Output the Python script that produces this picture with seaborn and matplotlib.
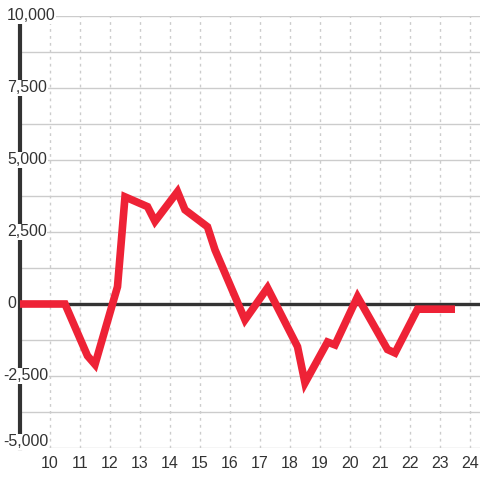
import matplotlib
matplotlib.use("Agg")
import matplotlib.pyplot as plt
import matplotlib.transforms as mtransforms
import seaborn as sns
import pandas as pd

# data
hours = [9.0, 10.5, 11.25, 11.5, 12.25, 12.5, 13.25, 13.5, 14.25, 14.5, 15.25, 15.5,
         16.5, 17.25, 18.25, 18.5, 19.25, 19.5, 20.25, 21.25, 21.5, 22.25, 23.5]
values = [0, 0, -1800, -2100, 600, 3720, 3380, 2870, 3900, 3270, 2680, 1880,
          -550, 560, -1480, -2740, -1320, -1420, 250, -1580, -1700, -180, -180]
x_ticks = list(range(10, 25))
y_ticks = [-5000, -2500, 0, 2500, 5000, 7500, 10000]
y_tick_labels = ["-5,000", "-2,500", "0", "2,500", "5,000", "7,500", "10,000"]
y_grid = [-5000 + 1250 * i for i in range(13)]

sns.set_theme(style="white")
plt.rcParams["font.family"] = ["Liberation Sans", "DejaVu Sans"]

fig = plt.figure(figsize=(4.8, 4.8), dpi=100)
ax = fig.add_axes([20 / 480, 32 / 480, 460 / 480, 432 / 480])

df = pd.DataFrame({"hour": hours, "value": values})
sns.lineplot(data=df, x="hour", y="value", ax=ax, color="#ee2236", linewidth=5.5,
             solid_joinstyle="miter", solid_capstyle="butt", zorder=5)

ax.set_xlim(9, 9 + 460 / 30)
ax.set_ylim(-5000, 10000)
ax.set_xlabel("")
ax.set_ylabel("")

for gy in y_grid:
    ax.axhline(gy, color="#cccccc", linewidth=1, zorder=1)
for gx in x_ticks:
    ax.axvline(gx, color="#cccccc", linewidth=1, linestyle=(0, (2, 3)), zorder=1)
ax.axhline(0, color="#333333", linewidth=2.4, zorder=4)

for s in ["top", "right", "bottom"]:
    ax.spines[s].set_visible(False)
ax.spines["left"].set_visible(True)
ax.spines["left"].set_color("#333333")
ax.spines["left"].set_linewidth(3)
ax.spines["left"].set_zorder(3)

ax.set_xticks(x_ticks)
ax.set_xticklabels([str(t) for t in x_ticks])
ax.tick_params(axis="x", length=0, pad=6, labelsize=11.5, labelcolor="#333333")
ax.set_yticks(y_ticks)
ax.set_yticklabels([])
ax.tick_params(axis="y", length=0)

trans = mtransforms.blended_transform_factory(fig.transFigure, ax.transData)
for yv, lab in zip(y_ticks, y_tick_labels):
    xpos = 7 / 480 if not lab.startswith("-") else 3 / 480
    t = trans
    if yv == y_ticks[0]:
        t = trans + mtransforms.ScaledTranslation(0, 6 / 100, fig.dpi_scale_trans)
    ax.text(xpos, yv, lab, transform=t, ha="left", va="center", fontsize=11.5,
            color="#333333", zorder=6, clip_on=False,
            bbox=dict(facecolor="white", edgecolor="none", pad=0.5))

fig.savefig("out.png", dpi=100, facecolor="white")
